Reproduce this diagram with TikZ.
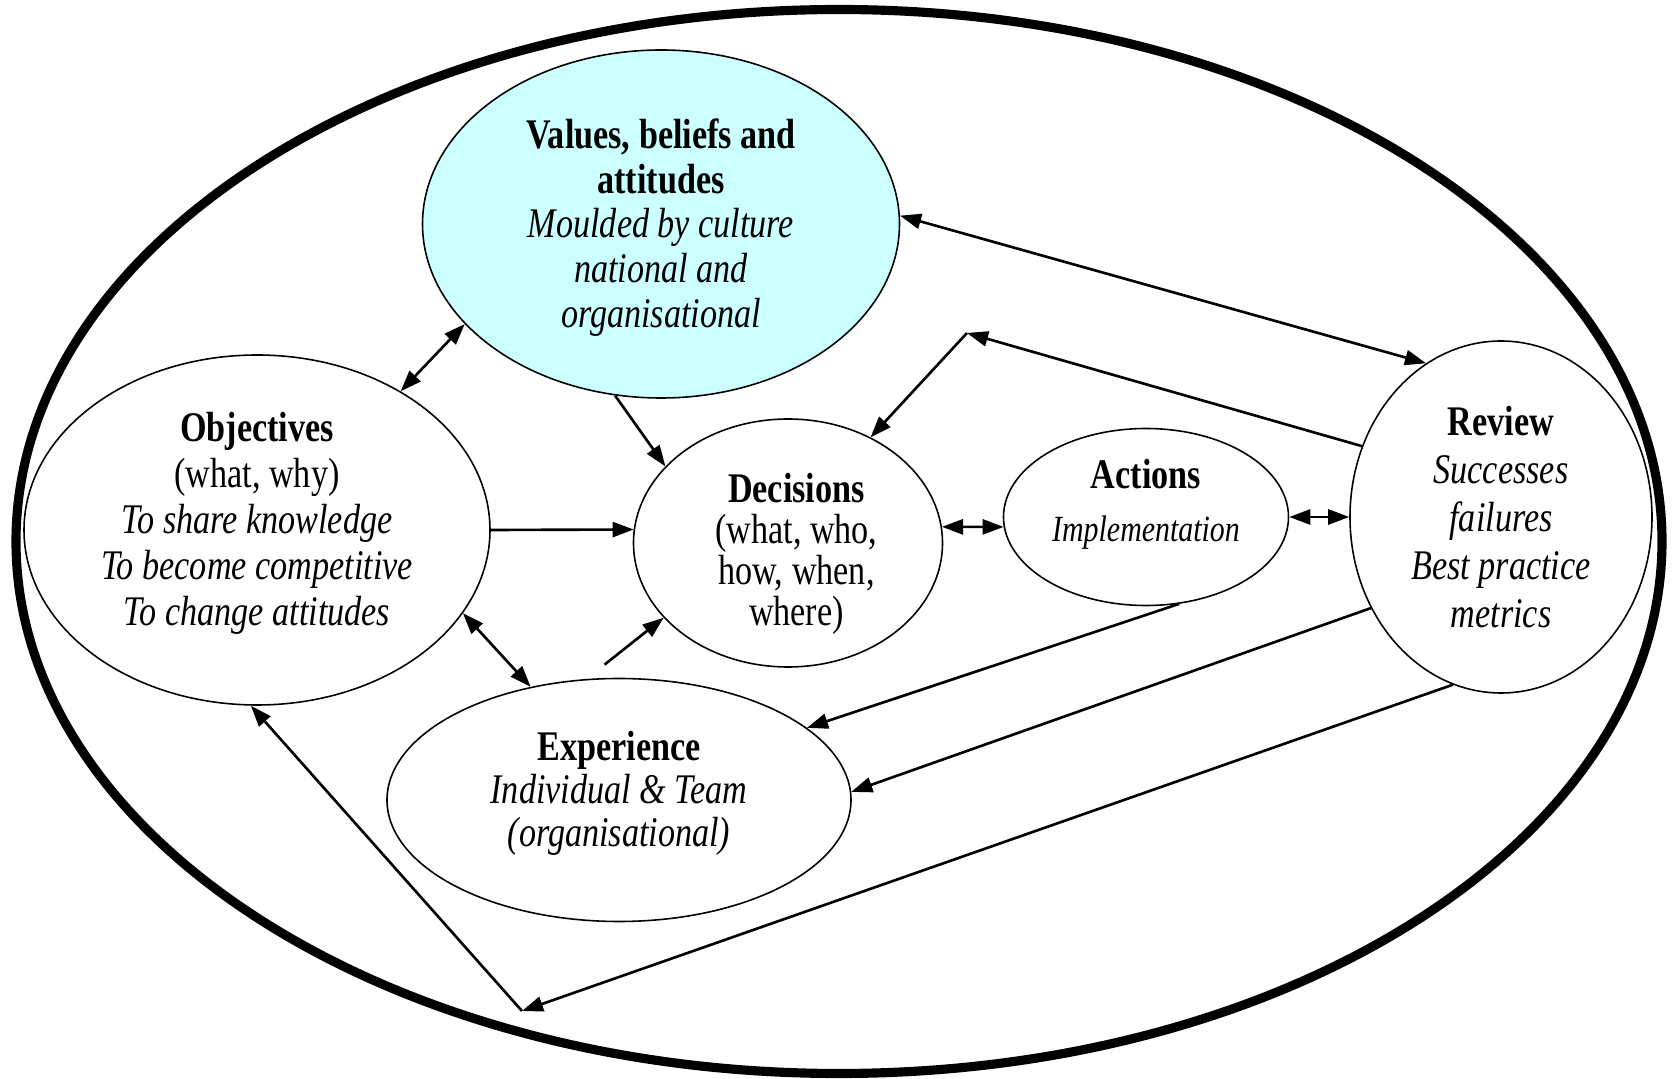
\documentclass[tikz,border=0pt]{standalone}
\usepackage{fontspec}
\setmainfont{Liberation Serif}[FakeStretch=0.81]
\usetikzlibrary{shapes.geometric,arrows.meta}
\definecolor{paleblue}{HTML}{CCFFFF}
\newcommand{\hd}[1]{\textbf{#1}}
\newcommand{\fs}[1]{\fontsize{12}{#1}\selectfont}

\begin{document}
\begin{tikzpicture}
  \tikzset{>={Triangle[length=6pt,width=4.3pt]},
    bubble/.style={draw, ellipse, line width=0.45pt, inner sep=0pt},
    txt/.style={align=center, inner sep=0pt},
    link/.style={line width=0.75pt}}
  \useasboundingbox (0,0) rectangle (16.76,10.79);
  \draw[line width=2.6pt] (8.39,5.375) ellipse (8.23 and 5.32);

  % the six bubbles, text set on top of each
  \node[bubble, fill=paleblue, minimum width=4.77cm, minimum height=3.48cm] (vals) at (6.61,8.55) {};
  \node[bubble, minimum width=4.66cm, minimum height=3.50cm] (objs) at (2.57,5.49) {};
  \node[bubble, minimum width=3.09cm, minimum height=2.48cm] (decs) at (7.88,5.36) {};
  \node[bubble, minimum width=2.85cm, minimum height=1.77cm] (acts) at (11.46,5.62) {};
  \node[bubble, minimum width=3.02cm, minimum height=3.52cm] (revw) at (15.01,5.62) {};
  \node[bubble, minimum width=4.64cm, minimum height=2.43cm] (expr) at (6.19,2.79) {};

  \node[txt, font=\fs{12.7pt}] (vals-t) at ([yshift=-1pt]vals.center)
    {\hd{Values, beliefs and}\\\hd{attitudes}\\\textit{Moulded by culture}\\\textit{national and}\\\textit{organisational}};
  \node[txt, font=\fs{13.1pt}] (objs-t) at ([yshift=2pt]objs.center)
    {\hd{Objectives}\\(what, why)\\\textit{To share knowledge}\\\textit{To become competitive}\\\textit{To change attitudes}};
  \node[txt, font=\fs{11.7pt}] (decs-t) at ([xshift=2.4pt,yshift=-3pt]decs.center)
    {\hd{Decisions}\\(what, who,\\how, when,\\where)};
  \node[txt, font=\fs{13pt}] (acts-t) at ([yshift=3.7pt]acts.center)
    {\hd{Actions}\\[2pt]{\fontsize{10.5}{13}\selectfont\textit{Implementation}}};
  \node[txt, font=\fs{13.7pt}] (revw-t) at (revw.center)
    {\hd{Review}\\\textit{Successes}\\\textit{failures}\\\textit{Best practice}\\\textit{metrics}};
  \node[txt, font=\fs{12.2pt}] (expr-t) at ([yshift=1.8pt]expr.center)
    {\hd{Experience}\\\textit{Individual \& Team}\\\textit{(organisational)}};

  % bends of the two feedback paths from the review
  \coordinate (topbend) at (9.67,7.46);
  \coordinate (lowbend) at (5.22,0.68);

  \draw[<->, link] (objs.44) -- (vals.207);
  \draw[->, link] (vals.255) -- (decs.148);
  \draw[->, link] (objs.0) -- (decs.175);
  \draw[->, link, shorten <=0.23cm] (expr.105) -- (decs.211);
  \draw[<->, link] (objs.338) -- (expr.128);
  \draw[<->, link] (decs.6) -- (acts.184);
  \draw[<->, link] (acts.0) -- (revw.180);
  \draw[<->, link] (vals.2) -- (revw.116);
  \draw[->, link] (revw.153) -- (topbend);
  \draw[->, link] (topbend) -- (decs.52);
  \draw[->, link] (acts.291) -- (expr.21);
  \draw[->, link] (revw.215) -- (expr.2);
  \draw[->, link] (revw.254) -- (lowbend);
  \draw[->, link] (lowbend) -- (objs.268);
\end{tikzpicture}
\end{document}
